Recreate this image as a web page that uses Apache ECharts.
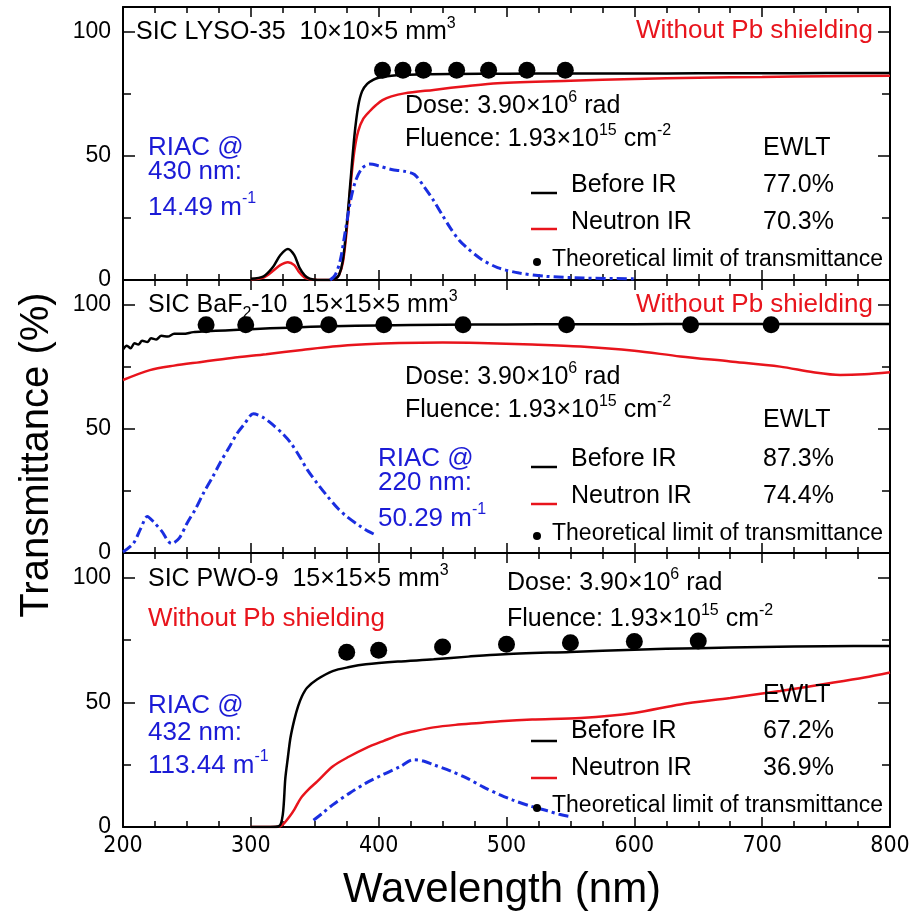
<!DOCTYPE html>
<html><head><meta charset="utf-8">
<script src="https://cdn.jsdelivr.net/npm/echarts@6/dist/echarts.min.js"></script>
<style>html,body{margin:0;padding:0;background:#fff}#c{width:924px;height:917px}</style>
</head><body><div id="c"></div>
<script>
// ---------- data (wavelength nm, transmittance %) ----------
const lysoBefore = [[300,0.5],[310,1.5],[317,5],[323,10],[329,12.5],[334,10],[338,5],[342,2],[346,0.5],[352,0],[362,0],[366,0.5],[369,2],[372,8],[375,22],[378,40],[381,58],[384,70],[387,76],[391,79],[396,80.7],[400,81.5],[410,82.3],[430,82.8],[460,83],[500,83.1],[550,83.2],[600,83.2],[650,83.3],[700,83.3],[750,83.4],[800,83.4]];
const lysoNeutron = [[300,0.3],[310,1],[317,3.5],[323,6],[329,7.2],[334,6],[338,3],[342,1],[346,0.3],[352,0],[362,0],[366,0.5],[369,2],[372,7],[375,20],[378,38],[381,52],[384,60],[388,65],[393,68],[398,70.5],[403,72.5],[410,74],[420,75.2],[443,76.6],[470,78.2],[493,79.3],[550,80.3],[600,81],[650,81.5],[700,81.8],[750,82.1],[800,82.3]];
const lysoRIAC = [[362,0],[366,2],[370,8],[374,20],[378,32],[382,40],[387,45],[393,46.7],[400,46],[410,44.5],[420,43.8],[428,42.5],[435,38],[443,32],[450,26],[456,21],[463,16],[469,13],[480,8.5],[493,5],[510,2.8],[530,1.5],[560,0.8],[600,0.5]];
const lysoLimit = [[403,84.5],[419,84.5],[435,84.5],[461,84.5],[486,84.5],[516,84.5],[546,84.5]];

const bafBefore = [[200,82],[203,83.5],[206,82.5],[209,84.5],[212,84],[215,85.5],[219,85],[222,86.5],[226,86],[230,87.5],[235,87.2],[240,88.3],[247,88.3],[255,89],[265,89.3],[280,89.7],[300,90.2],[330,90.8],[364,91.4],[400,91.7],[450,92],[500,92.1],[550,92.2],[600,92.2],[650,92.3],[700,92.3],[750,92.3],[800,92.3]];
const bafNeutron = [[200,69.7],[221,73.7],[240,75.5],[260,76.9],[285,78.6],[312,80.1],[340,81.8],[364,83.2],[390,84.1],[416,84.6],[450,84.8],[479,84.6],[520,84],[558,83.2],[600,81.5],[636,79.2],[675,77.2],[714,75.1],[740,72.8],[761,71.7],[780,72],[800,72.8]];
const bafRIAC = [[200,0.4],[208,3.8],[214,10],[219,14.7],[224,12.5],[230,9],[238,3.8],[244,6],[250,11.9],[257,18],[263,24.2],[270,30.5],[276,36.4],[283,42.5],[289,48],[295,52],[302,56.1],[310,54.5],[318,51.3],[325,48],[331,44.5],[338,39],[344,33.7],[352,28],[360,22.8],[368,18],[375,14.7],[385,11],[392,8.7],[398,7.2]];
const bafLimit = [[265,92],[296,92],[334,92],[361,92],[404,92],[466,92],[547,92],[644,92],[707,92]];

const pwoBefore = [[300,0],[315,0],[322,0.3],[325,5],[327,19.6],[329,28],[331,35.8],[334,43],[337,48.5],[340,52.5],[344,55.9],[352,59.3],[364,62.6],[377,64.2],[390,65.3],[415,66.4],[443,67.3],[470,68.4],[495,69.3],[550,70.3],[600,71.2],[650,71.8],[700,72.3],[750,72.6],[800,72.7]];
const pwoNeutron = [[300,0],[318,0],[323,0.3],[326,1.5],[330,4],[334,7],[339,11.5],[345,15],[352,18.3],[364,24.3],[377,28.3],[390,31.7],[404,34.6],[417,37.1],[430,38.7],[443,40],[460,41],[479,41.8],[495,42.5],[520,43.2],[558,43.8],[600,45.8],[636,49.2],[675,51.8],[714,54.6],[750,57.5],[780,60],[800,62]];
const pwoRIAC = [[349,2.7],[356,5.5],[364,8.9],[377,13.5],[390,17.6],[404,21.2],[417,24.3],[427,27],[435,26.5],[443,25],[456,22.5],[469,19.6],[482,16],[495,12.9],[505,10.8],[518,8.5],[532,6.5],[542,5],[550,4.2]];
const pwoLimit = [[375,70.2],[400,71],[450,72.3],[500,73.4],[550,74],[600,74.5],[650,74.7]];

const yTickLabels = [0, 50, 100];
const xRange = [200, 800];
const panels = [
  {before: lysoBefore, neutron: lysoNeutron, riac: lysoRIAC, limit: lysoLimit},
  {before: bafBefore, neutron: bafNeutron, riac: bafRIAC, limit: bafLimit},
  {before: pwoBefore, neutron: pwoNeutron, riac: pwoRIAC, limit: pwoLimit}
];

// ---------- styling ----------
const FONT = "'Liberation Sans', Arial, Helvetica, sans-serif";
const NARROW = "'Liberation Sans Narrow', 'DejaVu Sans Condensed', 'Liberation Sans', Arial, sans-serif";
const RED = '#e8141c', BLUE = '#1a2ee0', BLUETXT = '#1b1bd6';
const gridPos = [{top:7,height:273},{top:280,height:273},{top:553,height:274}];

const chart = echarts.init(document.getElementById('c'));
const grid = gridPos.map(g => ({left:123, right:34, top:g.top, height:g.height, containLabel:false}));
const axLine = {show:true, onZero:false, lineStyle:{color:'#000', width:2}};
const xAxis = [], yAxis = [], series = [];
gridPos.forEach((g, i) => {
  ['bottom','top'].forEach(pos => {
    xAxis.push({gridIndex:i, type:'value', min:xRange[0], max:xRange[1], interval:100, position:pos,
      axisLine:axLine, splitLine:{show:false},
      axisTick:{show:true, inside:true, length:10, lineStyle:{color:'#000', width:1.5}},
      minorTick:{show:true, splitNumber:4, length:6, lineStyle:{color:'#000', width:1.5}},
      axisLabel:{show: i===2 && pos==='bottom', margin:8, color:'#000', fontSize:23, fontFamily:NARROW}});
  });
  ['left','right'].forEach(pos => {
    yAxis.push({gridIndex:i, type:'value', min:0, max:110, interval:50, position:pos,
      axisLine:axLine, splitLine:{show:false},
      axisTick:{show:true, inside:true, length:12, lineStyle:{color:'#000', width:1.5}},
      axisLabel:{show: pos==='left', margin:12, color:'#000', fontSize:23, fontFamily:FONT,
        formatter: v => yTickLabels.indexOf(v) >= 0 ? String(v) : ''}});
    yAxis.push({gridIndex:i, type:'value', min:0, max:110, interval:25, position:pos,
      axisLine:{show:false}, splitLine:{show:false}, axisLabel:{show:false},
      axisTick:{show:true, inside:true, length:8, lineStyle:{color:'#000', width:1.5}}});
  });
  const p = panels[i];
  const xi = i*2, yi = i*4;
  series.push({type:'line', xAxisIndex:xi, yAxisIndex:yi, data:p.neutron, showSymbol:false, symbol:'none', smooth:0.3,
    lineStyle:{color:RED, width:2.5}, z:2, silent:true});
  series.push({type:'line', xAxisIndex:xi, yAxisIndex:yi, data:p.before, showSymbol:false, symbol:'none', smooth:0.3,
    lineStyle:{color:'#000', width:2.5}, z:3, silent:true});
  series.push({type:'line', xAxisIndex:xi, yAxisIndex:yi, data:p.riac, showSymbol:false, symbol:'none', smooth:0.3,
    lineStyle:{color:BLUE, width:3, type:[10,4,3,4]}, z:4, silent:true});
  series.push({type:'scatter', xAxisIndex:xi, yAxisIndex:yi, data:p.limit, symbol:'circle', symbolSize:17,
    itemStyle:{color:'#000', opacity:1}, z:5, silent:true});
});

// ---------- annotations ----------
function rich(size, color) {
  const s = Math.round(size*0.62);
  return {
    n:{fontSize:size, fontFamily:FONT, fill:color, lineHeight:size+8},
    s:{fontSize:s, fontFamily:FONT, fill:color, lineHeight:s, verticalAlign:'top'},
    b:{fontSize:s, fontFamily:FONT, fill:color, lineHeight:s, verticalAlign:'bottom'}
  };
}
function T(x, y, text, size, color, align) {
  return {type:'text', x:x, y:y, z:100, silent:true,
    style:{text:text, align:align||'left', verticalAlign:'middle', fill:color, fontSize:size, fontFamily:FONT, rich:rich(size,color)}};
}
function L(x1, x2, y, color) {
  return {type:'line', z:100, silent:true, shape:{x1:x1, y1:y, x2:x2, y2:y}, style:{stroke:color, lineWidth:2.5}};
}
function D(x, y) {
  return {type:'circle', z:100, silent:true, shape:{cx:x, cy:y, r:4}, style:{fill:'#000'}};
}
const SZ = 25, SIC = 25, RS = 26, WP = 26, TH = 23;
const g = [];
// panel 1
g.push(T(136, 32, '{n|SIC LYSO-35  10×10×5 mm}{s|3}', SIC, '#000'));
g.push(T(873, 31, '{n|Without Pb shielding}', WP, RED, 'right'));
g.push(T(405, 106, '{n|Dose: 3.90×10}{s|6}{n| rad}', SZ, '#000'));
g.push(T(405, 139, '{n|Fluence: 1.93×10}{s|15}{n| cm}{s|-2}', SZ, '#000'));
g.push(T(763, 148, '{n|EWLT}', SZ, '#000'));
g.push(T(571, 185, '{n|Before IR}', SZ, '#000')); g.push(T(763, 185, '{n|77.0%}', SZ, '#000'));
g.push(T(571, 222, '{n|Neutron IR}', SZ, '#000')); g.push(T(763, 222, '{n|70.3%}', SZ, '#000'));
g.push(L(531, 557, 193, '#000')); g.push(L(531, 557, 229, RED));
g.push(D(537, 262)); g.push(T(552, 260, '{n|Theoretical limit of transmittance}', TH, '#000'));
g.push(T(148, 148, '{n|RIAC @}', RS, BLUETXT));
g.push(T(148, 172, '{n|430 nm:}', RS, BLUETXT));
g.push(T(148, 208, '{n|14.49 m}{s|-1}', RS, BLUETXT));
// panel 2
g.push(T(148, 305, '{n|SIC BaF}{b|2}{n|-10  15×15×5 mm}{s|3}', SIC, '#000'));
g.push(T(873, 305, '{n|Without Pb shielding}', WP, RED, 'right'));
g.push(T(405, 377, '{n|Dose: 3.90×10}{s|6}{n| rad}', SZ, '#000'));
g.push(T(405, 410, '{n|Fluence: 1.93×10}{s|15}{n| cm}{s|-2}', SZ, '#000'));
g.push(T(763, 420, '{n|EWLT}', SZ, '#000'));
g.push(T(571, 459, '{n|Before IR}', SZ, '#000')); g.push(T(763, 459, '{n|87.3%}', SZ, '#000'));
g.push(T(571, 496, '{n|Neutron IR}', SZ, '#000')); g.push(T(763, 496, '{n|74.4%}', SZ, '#000'));
g.push(L(531, 557, 467, '#000')); g.push(L(531, 557, 504, RED));
g.push(D(537, 536)); g.push(T(552, 534, '{n|Theoretical limit of transmittance}', TH, '#000'));
g.push(T(378, 459, '{n|RIAC @}', RS, BLUETXT));
g.push(T(378, 483, '{n|220 nm:}', RS, BLUETXT));
g.push(T(378, 519, '{n|50.29 m}{s|-1}', RS, BLUETXT));
// panel 3
g.push(T(148, 579, '{n|SIC PWO-9  15×15×5 mm}{s|3}', SIC, '#000'));
g.push(T(148, 619, '{n|Without Pb shielding}', WP, RED));
g.push(T(507, 583, '{n|Dose: 3.90×10}{s|6}{n| rad}', SZ, '#000'));
g.push(T(507, 619, '{n|Fluence: 1.93×10}{s|15}{n| cm}{s|-2}', SZ, '#000'));
g.push(T(763, 695, '{n|EWLT}', SZ, '#000'));
g.push(T(571, 731, '{n|Before IR}', SZ, '#000')); g.push(T(763, 731, '{n|67.2%}', SZ, '#000'));
g.push(T(571, 768, '{n|Neutron IR}', SZ, '#000')); g.push(T(763, 768, '{n|36.9%}', SZ, '#000'));
g.push(L(531, 557, 741, '#000')); g.push(L(531, 557, 778, RED));
g.push(D(537, 808)); g.push(T(552, 806, '{n|Theoretical limit of transmittance}', TH, '#000'));
g.push(T(148, 706, '{n|RIAC @}', RS, BLUETXT));
g.push(T(148, 733, '{n|432 nm:}', RS, BLUETXT));
g.push(T(148, 766, '{n|113.44 m}{s|-1}', RS, BLUETXT));
// axis titles
g.push({type:'text', x:502, y:890, z:100, silent:true,
  style:{text:'Wavelength (nm)', align:'center', verticalAlign:'middle', fill:'#000', fontSize:42, fontFamily:FONT}});
g.push({type:'text', x:37, y:455, rotation:Math.PI/2, z:100, silent:true,
  style:{text:'Transmittance (%)', align:'center', verticalAlign:'middle', fill:'#000', fontSize:40, fontFamily:FONT}});

chart.setOption({animation:false, backgroundColor:'#fff', grid, xAxis, yAxis, series, graphic:{elements:g}});
</script></body></html>
